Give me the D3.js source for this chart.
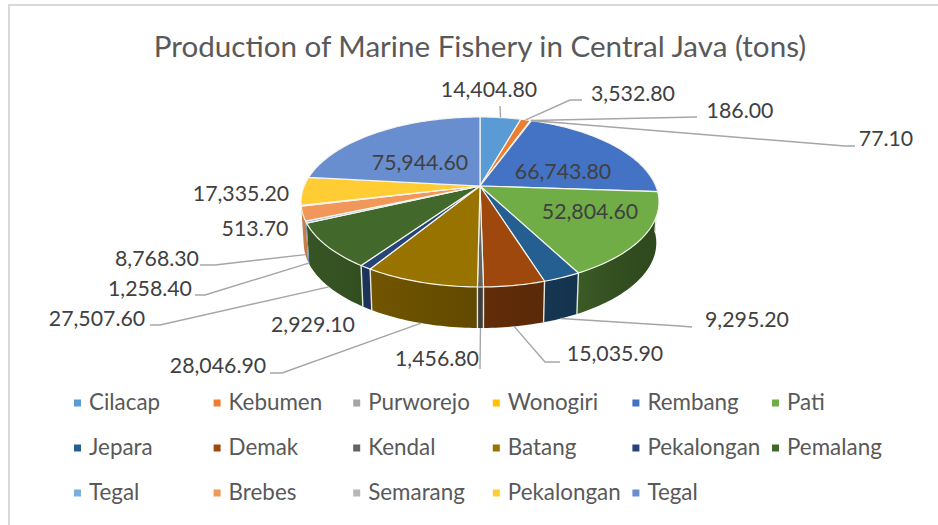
<!DOCTYPE html>
<html><head><meta charset="utf-8">
<script src="https://cdn.jsdelivr.net/npm/d3@7/dist/d3.min.js"></script>
<style>html,body{margin:0;padding:0;background:#fff}svg{display:block}text{font-family:Lato,"Open Sans",sans-serif}</style>
</head><body>
<script>
const categories=["Cilacap","Kebumen","Purworejo","Wonogiri","Rembang","Pati","Jepara","Demak","Kendal","Batang","Pekalongan","Pemalang","Tegal","Brebes","Semarang","Pekalongan","Tegal"];
const values=[14404.8,3532.8,186,77.1,66743.8,52804.6,9295.2,15035.9,1456.8,28046.9,2929.1,27507.6,1258.4,8768.3,513.7,17335.2,75944.6];
const colors=["#5B9BD5","#ED7D31","#A5A5A5","#FFC000","#4472C4","#70AD47","#255E91","#9E480E","#636363","#997300","#264478","#43682B","#7CAFDD","#F1975A","#B7B7B7","#FFCD33","#698ED0"];
const titleText="Production of Marine Fishery in Central Java (tons)";
// label layout: [index, label centre x, y, leader elbow x, elbow y, leader end x, end y, wall?]
const labelLayout=[
 [0,489,89,null,null,500,106,0],[1,633,93,570,100,582,100,0],[2,740,110,null,null,697,117,0],[3,886,138,845,146,855,146,0],
 [4,563,171],[5,590,211],[6,747,319,680,326,692,327,1],[7,615,353,545,362,560,362,1],
 [8,437,358,null,null,480,369,1],[9,218,365,282,373,270,373,1],[10,313,324],[11,97,318,160,325,150,325,1],
 [12,150,288,205,295,195,295,1],[13,157,258,215,265,200,265,1],[14,255,228],[15,241,193],[16,420,162]];
const W=938,H=525,cx=480,hy=186,A=175.8,B=82,k=0.188,depth=41;
const fmt=d3.format(",.2f");
const color=d3.scaleOrdinal(d3.range(values.length),colors);
const pie=d3.pie().sort(null).value(d=>d);
const arcs=pie(values);
function proj(a,wall){const u=Math.sin(a),v=-Math.cos(a),w=1-k*v;const s=wall?0.985:1;
 return [cx+s*A*u/w,hy+B*v/w+(wall?depth:0)];}
const svg=d3.select("body").append("svg").attr("width",W).attr("height",H);
const defs=svg.append("defs");
svg.append("path").attr("d","M9,525V5H938").attr("fill","none").attr("stroke","#d9d9d9").attr("stroke-width",2);
svg.append("text").attr("x",480).attr("y",57).attr("text-anchor","middle").attr("font-size",29.6).attr("fill","#595959").text(titleText);
const line=d3.line();
const shade=(i,a)=>{const sh=0.63-0.21*Math.sin(a),c=d3.rgb(color(i));return d3.rgb(c.r*sh,c.g*sh,c.b*sh).formatHex();};
// walls: one path per slice, filled by a gradient that follows the turn of the rim
const gW=svg.append("g");
arcs.forEach((d,i)=>{
 const a0=Math.max(d.startAngle,Math.PI*0.4),a1=Math.min(d.endAngle,Math.PI*1.6);
 if(a1<=a0||a0>Math.PI*1.425)return;
 const n=Math.max(2,Math.ceil((a1-a0)/0.02));
 const as=d3.range(n+1).map(j=>a0+(a1-a0)*j/n);
 const pts=as.map(a=>proj(a,0)).concat(as.slice().reverse().map(a=>proj(a,1)));
 const x0=proj(a0,0)[0],x1=proj(a1,0)[0];
 const g=defs.append("linearGradient").attr("id","w"+i).attr("gradientUnits","userSpaceOnUse").attr("x1",x0).attr("x2",x1).attr("y1",0).attr("y2",0);
 d3.range(7).forEach(j=>g.append("stop").attr("offset",j/6).attr("stop-color",shade(i,a0+(a1-a0)*j/6)));
 gW.append("path").attr("d",line(pts)+"Z").attr("fill",Math.abs(x1-x0)<1?shade(i,a0):`url(#w${i})`);
});
arcs.forEach(d=>{const a=d.startAngle; if(Math.cos(a)<0.05&&a<Math.PI*1.35){
 gW.append("path").attr("d",line([proj(a,0),proj(a,1)])).attr("stroke","#e4e8dc").attr("stroke-width",1.4).attr("fill","none");}});
// top faces
const gT=svg.append("g");
arcs.forEach((d,i)=>{
 const n=Math.max(2,Math.ceil((d.endAngle-d.startAngle)/0.02));
 const pts=[[cx,hy]].concat(d3.range(n+1).map(j=>proj(d.startAngle+(d.endAngle-d.startAngle)*j/n,0)));
 gT.append("path").attr("d",line(pts)+"Z").attr("fill",color(i)).attr("stroke","#f4f6ee").attr("stroke-width",1.2).attr("stroke-linejoin","round");
});
// leaders and labels
const gL=svg.append("g");
labelLayout.forEach(l=>{
 const [i,x,y,ex,ey,tx,ty,wall]=l;
 if(tx!==undefined){
  const mid=(arcs[i].startAngle+arcs[i].endAngle)/2;
  const st=proj(mid,wall===1?1:0);
  const pts=ex===null?[st,[tx,ty]]:[st,[ex,ey],[tx,ty]];
  gL.append("path").attr("d",line(pts)).attr("fill","none").attr("stroke","#a6a6a6").attr("stroke-width",1.4);
 }
 gL.append("text").attr("x",x).attr("y",y+7.5).attr("text-anchor","middle").attr("font-size",21.3).attr("fill","#404040").text(fmt(values[i]));
});
// legend
const colX=d3.scalePoint().domain(d3.range(6)).range([89,787]);
const rowY=d3.scalePoint().domain(d3.range(3)).range([403,493]);
const gLeg=svg.append("g");
categories.forEach((c,i)=>{
 const x=colX(i%6),y=rowY(Math.floor(i/6));
 gLeg.append("rect").attr("x",x-15).attr("y",y-3.5).attr("width",7).attr("height",7).attr("fill",color(i));
 gLeg.append("text").attr("x",x).attr("y",y+7).attr("font-size",22.4).attr("fill","#595959").text(c);
});
</script></body></html>
